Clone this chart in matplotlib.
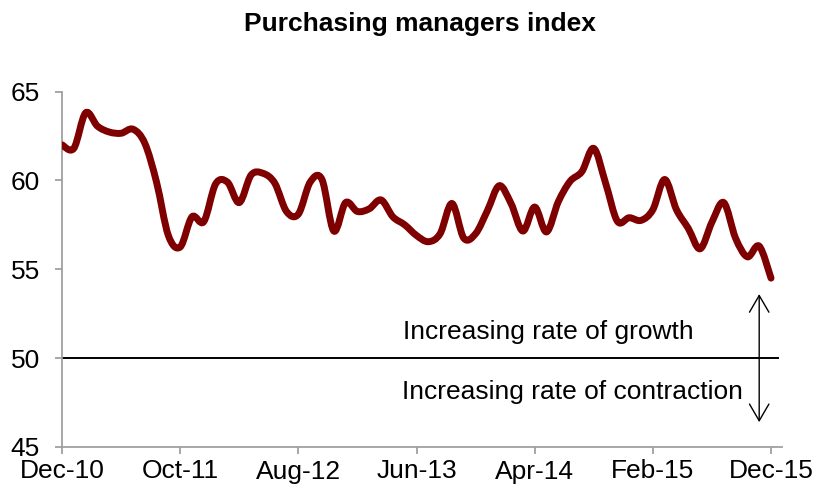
import matplotlib
matplotlib.use("Agg")
import matplotlib.pyplot as plt
from matplotlib.path import Path
from matplotlib.patches import PathPatch
import numpy as np

plt.rcParams['font.family'] = ['Liberation Sans', 'DejaVu Sans']

# Monthly PMI, Dec-10 .. Dec-15
pmi = [
    62.0, 61.8, 63.8, 63.05, 62.72, 62.65, 62.88, 62.1, 59.9, 56.9,
    56.25, 57.95, 57.68, 59.8, 59.9, 58.75, 60.3, 60.4, 59.85, 58.25,
    58.1, 59.9, 60.05, 57.15, 58.75, 58.25, 58.4, 58.9, 57.95, 57.5,
    56.9, 56.55, 57.0, 58.7, 56.75, 57.0, 58.3, 59.7, 58.7, 57.15,
    58.5, 57.1, 58.8, 59.95, 60.5, 61.8, 59.85, 57.7, 57.9, 57.75,
    58.35, 60.05, 58.35, 57.3, 56.15, 57.65, 58.75, 56.75, 55.7, 56.3,
    54.5,
]
tick_labels = ['Dec-10', 'Oct-11', 'Aug-12', 'Jun-13', 'Apr-14', 'Feb-15', 'Dec-15']
tick_step = 10
threshold = 50
label_growth = 'Increasing rate of growth'
label_contraction = 'Increasing rate of contraction'
title = 'Purchasing managers index'

x = np.arange(len(pmi), dtype=float)
y = np.array(pmi, dtype=float)

fig = plt.figure(figsize=(8.27, 4.95), dpi=100)
ax = fig.add_axes([62 / 827, 1 - 447 / 495, (782 - 62) / 827, (447 - 91.5) / 495])

# smoothed line (Bezier through the data points)
n = len(x)
verts = [(x[0], y[0])]
codes = [Path.MOVETO]
for i in range(n - 1):
    i0 = max(i - 1, 0)
    i2 = min(i + 2, n - 1)
    c1 = (x[i] + (x[i + 1] - x[i0]) / 6, y[i] + (y[i + 1] - y[i0]) / 6)
    c2 = (x[i + 1] - (x[i2] - x[i]) / 6, y[i + 1] - (y[i2] - y[i]) / 6)
    verts += [c1, c2, (x[i + 1], y[i + 1])]
    codes += [Path.CURVE4, Path.CURVE4, Path.CURVE4]
patch = PathPatch(Path(verts, codes), fill=False, edgecolor='#7F0000', lw=5.0,
                  capstyle='round', joinstyle='round', zorder=3)
ax.add_patch(patch)

ax.axhline(threshold, xmin=0, xmax=0.995, color='black', lw=1.4, zorder=2)

ax.set_xlim(0, 60.93)
ax.set_ylim(45, 65)
ax.set_yticks([45, 50, 55, 60, 65])
ax.set_xticks(np.arange(0, len(pmi), tick_step))
ax.set_xticklabels(tick_labels)

for s in ['top', 'right']:
    ax.spines[s].set_visible(False)
for s in ['left', 'bottom']:
    ax.spines[s].set_color('#A0A0A0')
    ax.spines[s].set_linewidth(1.3)
ax.tick_params(axis='both', colors='#A0A0A0', length=5, width=1.3, direction='out',
               labelcolor='black', labelsize=19)
ax.tick_params(axis='y', pad=11)
ax.tick_params(axis='x', pad=4)

ax.text(28.85, 51.45, label_growth, fontsize=19, ha='left', va='center')
ax.text(28.75, 48.1, label_contraction, fontsize=19, ha='left', va='center')
ax.annotate('', xy=(59.0, 53.6), xytext=(59.0, 46.4),
            arrowprops=dict(arrowstyle='<->,head_length=0.6,head_width=0.35',
                            lw=1.0, color='black', shrinkA=0, shrinkB=0,
                            mutation_scale=20))

fig.text(420 / 827, 1 - 24 / 495, title, fontsize=19, fontweight='bold',
         ha='center', va='center')

fig.savefig('out.png', dpi=100)
